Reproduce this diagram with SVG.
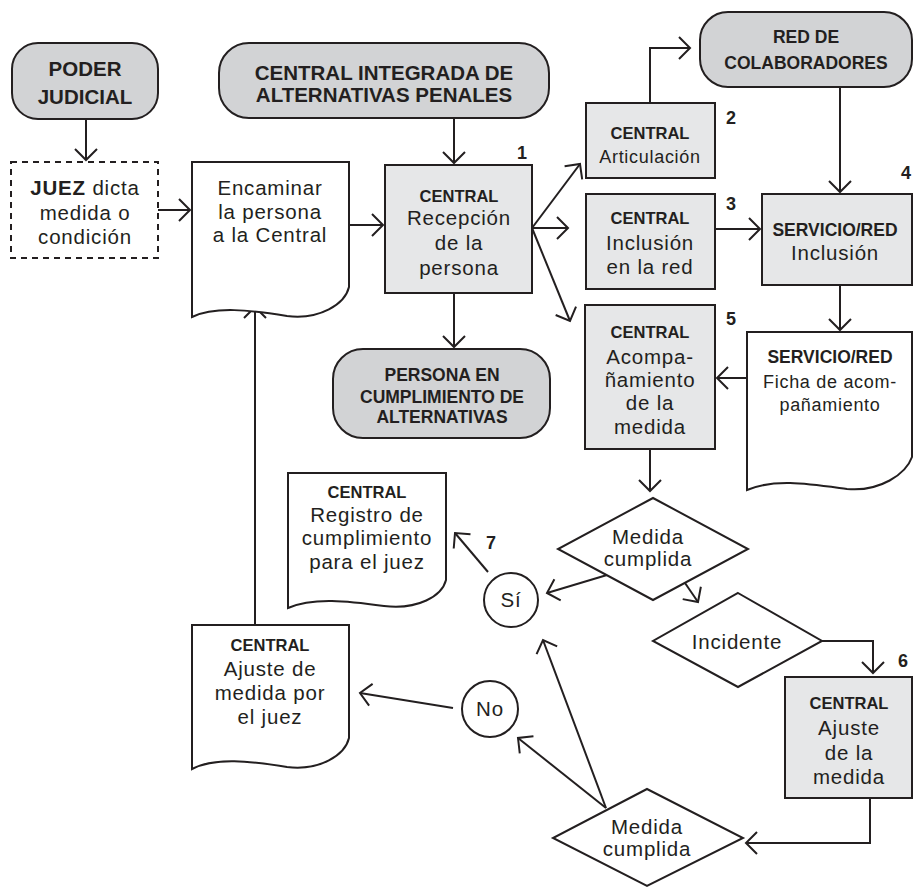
<svg xmlns="http://www.w3.org/2000/svg" width="914" height="888" viewBox="0 0 914 888">
<defs>
<style>
.ln{fill:none;stroke:#231f20;stroke-width:2}
.sh{stroke:#231f20;stroke-width:2}
.rd{fill:#d2d3d5}
.bx{fill:#e6e7e8}
.wh{fill:#ffffff}
text{font-family:"Liberation Sans",Arial,sans-serif;fill:#231f20;text-anchor:middle}
.b{font-weight:bold}
.h{font-size:20.5px;font-weight:bold}
.h2{font-size:17.5px;font-weight:bold}
.c{font-size:16.5px;font-weight:bold}
.r{font-size:20.5px;letter-spacing:0.8px}
.s{font-size:18px;letter-spacing:0.7px}
.n{font-size:18px;font-weight:bold}
</style>
<marker id="arr" markerUnits="userSpaceOnUse" viewBox="-14 -14 28 28" markerWidth="28" markerHeight="28" refX="0" refY="0" orient="auto">
<path d="M-11,-11 L0,0 L-11,11" fill="none" stroke="#231f20" stroke-width="2"/>
</marker>
</defs>
<rect width="914" height="888" fill="#ffffff"/>

<g id="connectors" class="ln" marker-end="url(#arr)">
<path d="M86,119 V160"/>
<path d="M158,210 H190"/>
<path d="M349,225 H383"/>
<path d="M454,118 V163"/>
<path d="M532,228 L580,164"/>
<path d="M532,228 H568"/>
<path d="M532,228 L570,321"/>
<path d="M454,293 V347"/>
<path d="M650,103 V48 H690"/>
<path d="M840,87 V192"/>
<path d="M715,229 H760"/>
<path d="M840,285 V330"/>
<path d="M747,378 H717"/>
<path d="M650,449 V491"/>
<path d="M607,575 L547,593"/>
<path d="M685,583 L698,602"/>
<path d="M488,572 L455,533"/>
<path d="M822,641 H873 V673"/>
<path d="M870,798 V843 H746"/>
<path d="M606,808 L543,640"/>
<path d="M606,808 L518,738"/>
<path d="M453,708 L360,693"/>
<path d="M255,625 V307"/>
</g>

<g id="poder-judicial">
<rect class="sh rd" x="12" y="43" width="146" height="76" rx="26"/>
<text class="h" x="85" y="76">PODER</text>
<text class="h" x="85" y="104">JUDICIAL</text>
</g>

<g id="juez">
<rect x="11" y="162" width="147" height="96" fill="#ffffff" stroke="#231f20" stroke-width="2" stroke-dasharray="6 5"/>
<text class="r" x="85" y="195"><tspan class="b">JUEZ</tspan> dicta</text>
<text class="r" x="85" y="220">medida o</text>
<text class="r" x="85" y="244">condición</text>
</g>

<g id="encaminar">
<path class="sh wh" d="M192,162 H349 V287 C345,304 320,320 287,316 C250,310 215,306 192,317 Z"/>
<text class="r" x="270" y="195">Encaminar</text>
<text class="r" x="270" y="219">la persona</text>
<text class="r" x="270" y="242">a la Central</text>
</g>

<g id="central-integrada">
<rect class="sh rd" x="219" y="43" width="330" height="75" rx="30"/>
<text class="h" x="384" y="80">CENTRAL INTEGRADA DE</text>
<text class="h" x="384" y="102">ALTERNATIVAS PENALES</text>
</g>

<g id="recepcion">
<rect class="sh bx" x="385" y="165" width="147" height="128"/>
<text class="c" x="459" y="202">CENTRAL</text>
<text class="r" x="459" y="225">Recepción</text>
<text class="r" x="459" y="250">de la</text>
<text class="r" x="459" y="275">persona</text>
<text class="n" x="522" y="159">1</text>
</g>

<g id="articulacion">
<rect class="sh bx" x="586" y="103" width="129" height="75"/>
<text class="c" x="650" y="139">CENTRAL</text>
<text class="s" x="650" y="163">Articulación</text>
<text class="n" x="731" y="124">2</text>
</g>

<g id="red-colaboradores">
<rect class="sh rd" x="700" y="12" width="212" height="75" rx="28"/>
<text class="h2" x="806" y="43">RED DE</text>
<text class="h2" x="806" y="69">COLABORADORES</text>
</g>

<g id="inclusion-red">
<rect class="sh bx" x="586" y="194" width="129" height="95"/>
<text class="c" x="650" y="224">CENTRAL</text>
<text class="r" x="650" y="250">Inclusión</text>
<text class="r" x="650" y="274">en la red</text>
<text class="n" x="731" y="210">3</text>
</g>

<g id="servicio-inclusion">
<rect class="sh bx" x="762" y="194" width="150" height="91"/>
<text class="h2" x="835" y="236">SERVICIO/RED</text>
<text class="r" x="835" y="260">Inclusión</text>
<text class="n" x="906" y="179">4</text>
</g>

<g id="acompanamiento">
<rect class="sh bx" x="585" y="305" width="130" height="144"/>
<text class="c" x="650" y="338">CENTRAL</text>
<text class="r" x="650" y="364">Acompa-</text>
<text class="r" x="650" y="387">ñamiento</text>
<text class="r" x="650" y="410">de la</text>
<text class="r" x="650" y="434">medida</text>
<text class="n" x="731" y="325">5</text>
</g>

<g id="ficha">
<path class="sh wh" d="M747,332 H912 V457 C906,474 880,492 847,489 C810,484 775,478 747,490 Z"/>
<text class="h2" x="830" y="363">SERVICIO/RED</text>
<text class="s" x="830" y="388">Ficha de acom-</text>
<text class="s" x="830" y="411">pañamiento</text>
</g>

<g id="persona-cumplimiento">
<rect class="sh rd" x="333" y="349" width="217" height="89" rx="30"/>
<text class="h2" x="442" y="381">PERSONA EN</text>
<text class="h2" x="442" y="403">CUMPLIMIENTO DE</text>
<text class="h2" x="442" y="423">ALTERNATIVAS</text>
</g>

<g id="medida-cumplida-1">
<polygon class="sh wh" points="653,498 748,549 653,600 558,549"/>
<text class="r" x="648" y="544">Medida</text>
<text class="r" x="648" y="566">cumplida</text>
</g>

<g id="si">
<circle class="sh wh" cx="511" cy="600" r="27"/>
<text class="r" x="511" y="607">Sí</text>
</g>

<g id="registro">
<path class="sh wh" d="M288,473 H446 V580 C442,596 418,610 384,606 C348,601 313,597 288,608 Z"/>
<text class="c" x="367" y="498">CENTRAL</text>
<text class="r" x="367" y="522">Registro de</text>
<text class="r" x="367" y="545">cumplimiento</text>
<text class="r" x="367" y="569">para el juez</text>
<text class="n" x="491" y="549">7</text>
</g>

<g id="incidente">
<polygon class="sh wh" points="738,593 822,641 738,687 653,641"/>
<text class="r" x="737" y="649">Incidente</text>
</g>

<g id="ajuste-medida">
<rect class="sh bx" x="785" y="677" width="127" height="121"/>
<text class="c" x="849" y="709">CENTRAL</text>
<text class="r" x="849" y="735">Ajuste</text>
<text class="r" x="849" y="760">de la</text>
<text class="r" x="849" y="784">medida</text>
<text class="n" x="903" y="667">6</text>
</g>

<g id="medida-cumplida-2">
<polygon class="sh wh" points="647,789 743,838 647,886 553,838"/>
<text class="r" x="647" y="834">Medida</text>
<text class="r" x="647" y="856">cumplida</text>
</g>

<g id="no">
<circle class="sh wh" cx="490" cy="709" r="28"/>
<text class="r" x="490" y="716">No</text>
</g>

<g id="ajuste-juez">
<path class="sh wh" d="M192,625 H349 V738 C345,755 320,771 287,767 C250,761 215,757 192,769 Z"/>
<text class="c" x="270" y="651">CENTRAL</text>
<text class="r" x="270" y="676">Ajuste de</text>
<text class="r" x="270" y="700">medida por</text>
<text class="r" x="270" y="724">el juez</text>
</g>
</svg>
